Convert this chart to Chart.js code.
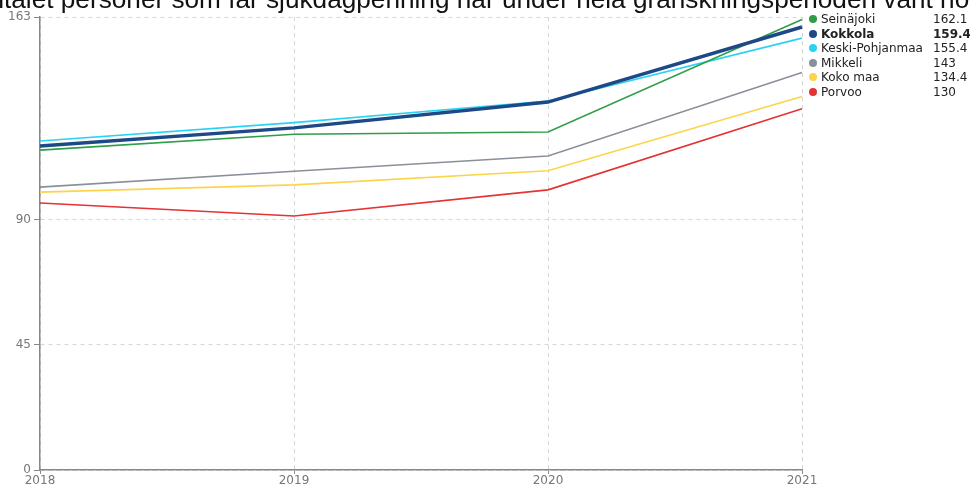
<!DOCTYPE html>
<html>
<head>
<meta charset="utf-8">
<script src="https://cdn.jsdelivr.net/npm/chart.js@4"></script>
<style>
	html, body { margin: 0; padding: 0; background: #fff; }
	#wrap { position: relative; width: 970px; height: 489px; overflow: hidden; }
	#title {
		position: absolute; left: -28px; top: -14px; white-space: nowrap;
		font-family: "Liberation Sans", Arial, sans-serif; font-size: 26.2px; line-height: 26px; color: #111;
	}
	#legend {
		position: absolute; left: 808px; top: 12px; width: 170px;
		font-family: "DejaVu Sans", sans-serif; font-size: 12px; color: #222;
	}
	.row { position: relative; height: 14.6px; line-height: 14.6px; white-space: nowrap; }
	.dot { position: absolute; left: 1px; top: 3px; width: 8px; height: 8px; border-radius: 50%; }
	.name { position: absolute; left: 13px; }
	.val { position: absolute; left: 125px; }
	.bold { font-weight: bold; }
</style>
</head>
<body>
<div id="wrap">
	<canvas id="chart" width="970" height="489"></canvas>
	<div id="title">Antalet personer som får sjukdagpenning har under hela granskningsperioden varit högre</div>
	<div id="legend"></div>
</div>
<script>
// Data
const years = ["2018", "2019", "2020", "2021"];
const yTicks = [0, 45, 90, 163];

const seinajoki = [115.1, 120.8, 121.6, 162.1];
const kokkola = [116.6, 123.1, 132.4, 159.4];
const keskiPohjanmaa = [118.4, 125.0, 132.8, 155.4];
const mikkeli = [101.8, 107.5, 113.0, 143];
const kokoMaa = [100.0, 102.6, 107.7, 134.4];
const porvoo = [96.1, 91.4, 100.8, 130];

const series = [
	{ label: "Seinäjoki", data: seinajoki, color: "#2e9e48", width: 1.6 },
	{ label: "Kokkola", data: kokkola, color: "#1d4a87", width: 3.4, bold: true },
	{ label: "Keski-Pohjanmaa", data: keskiPohjanmaa, color: "#2ad3f2", width: 1.6 },
	{ label: "Mikkeli", data: mikkeli, color: "#8a9099", width: 1.6 },
	{ label: "Koko maa", data: kokoMaa, color: "#fcd44a", width: 1.6 },
	{ label: "Porvoo", data: porvoo, color: "#e53232", width: 1.6 },
];

const legendEl = document.getElementById("legend");
series.forEach((s) => {
	const row = document.createElement("div");
	row.className = "row" + (s.bold ? " bold" : "");
	const last = s.data[s.data.length - 1];
	row.innerHTML = `<span class="dot" style="background:${s.color}"></span>` +
		`<span class="name">${s.label}</span><span class="val">${last}</span>`;
	legendEl.appendChild(row);
});

const axisColor = "#888";
const gridColor = "#d6d6d6";
const tickFont = { family: "DejaVu Sans", size: 12 };

new Chart(document.getElementById("chart"), {
	type: "line",
	data: {
		labels: years,
		datasets: series.map((s) => ({
			label: s.label,
			data: s.data,
			borderColor: s.color,
			backgroundColor: s.color,
			borderWidth: s.width,
			pointRadius: 0,
			tension: 0,
			order: s.bold ? -1 : 0,
		})),
	},
	options: {
		responsive: false,
		animation: false,
		layout: { padding: { top: 17, right: 168, left: 0, bottom: 0 } },
		plugins: { legend: { display: false }, tooltip: { enabled: false } },
		scales: {
			x: {
				offset: false,
				afterFit: (scale) => { scale.height = 19; },
				ticks: { color: "#777", font: tickFont, padding: 0, maxRotation: 0 },
				grid: {
					color: gridColor,
					tickColor: axisColor,
					tickLength: 4,
					tickBorderDash: [],
				},
				border: { color: axisColor, width: 1.5, dash: [4, 4] },
			},
			y: {
				min: 0,
				max: 163,
				afterFit: (scale) => { scale.width = 40; },
				afterBuildTicks: (scale) => { scale.ticks = yTicks.map((v) => ({ value: v })); },
				ticks: { color: "#777", font: tickFont, padding: 3 },
				grid: {
					color: gridColor,
					tickColor: axisColor,
					tickLength: 6,
					tickBorderDash: [],
				},
				border: { color: axisColor, width: 1.5, dash: [4, 4] },
			},
		},
	},
});
</script>
</body>
</html>
